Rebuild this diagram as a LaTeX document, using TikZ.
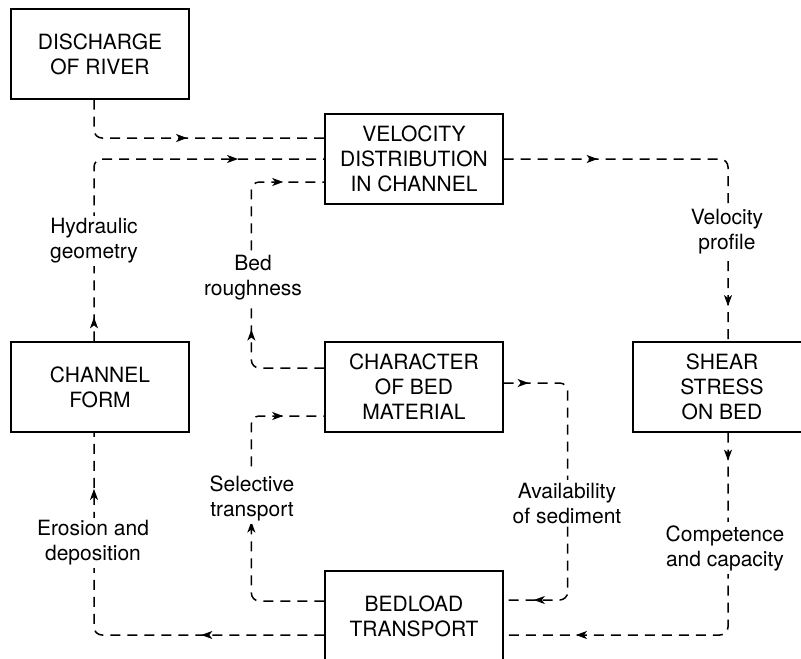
\documentclass[tikz,border=0pt]{standalone}
\usepackage{fontspec}
\setmainfont{TeX Gyre Heros}
\usetikzlibrary{arrows.meta,decorations.markings}

\begin{document}
\begin{tikzpicture}[x=1pt,y=-1pt,line width=1.5pt,>=Stealth,
  font=\fontsize{21}{25}\selectfont,
  box/.style={draw,line width=1.3pt,minimum width=178pt,minimum height=90pt,align=center,inner sep=2pt},
  lab/.style={fill=white,align=center,inner sep=3pt},
  link/.style={dash pattern=on 10pt off 7pt,rounded corners=8pt},
  tips/.style 2 args={postaction={decorate,solid},decoration={markings,
    mark=at position #1 with {\arrow{Stealth[length=11pt,width=8pt,inset=3pt]}},
    mark=at position #2 with {\arrow{Stealth[length=11pt,width=8pt,inset=3pt]}}}},
  tip/.style={postaction={decorate,solid},decoration={markings,
    mark=at position #1 with {\arrow{Stealth[length=11pt,width=8pt,inset=3pt]}}}}]
\useasboundingbox (0,0) rectangle (801,659);
% boxes
\node[box] (dis) at (100,54)  {DISCHARGE\\OF RIVER};
\node[box] (vel) at (414,159) {VELOCITY\\DISTRIBUTION\\IN CHANNEL};
\node[box] (chf) at (100,387) {CHANNEL\\FORM};
\node[box] (chb) at (414,387) {CHARACTER\\OF BED\\MATERIAL};
\node[box] (shr) at (722,387) {SHEAR\\STRESS\\ON BED};
\node[box] (bed) at (414,616) {BEDLOAD\\TRANSPORT};
% dashed links
\draw[link,tip=128pt] ([xshift=-6pt]dis.south) |- ([yshift=21pt]vel.west);
\draw[link,tips={24pt}{323pt}] ([xshift=-6pt]chf.north) |- (vel.west);
\draw[link,tips={108pt}{284pt}] ([yshift=19pt]chb.west) -- ++(-73,0) |- ([yshift=-23pt]vel.west);
\draw[link,tips={94pt}{368pt}] (vel.east) -| ([xshift=6pt]shr.north);
\draw[link,tips={25pt}{308pt}] ([yshift=4pt]chb.east) -- ++(64,0) |- ([yshift=16pt]bed.east);
\draw[link,tips={28pt}{351pt}] ([xshift=6pt]shr.south) |- ([yshift=-19pt]bed.east);
\draw[link,tips={149pt}{283pt}] ([yshift=15pt]bed.west) -- ++(-73,0) |- ([yshift=-29pt]chb.west);
\draw[link,tips={123pt}{373pt}] ([yshift=-19pt]bed.west) -| ([xshift=-6pt]chf.south);
% labels on the links
\node[lab] (hyd) at (94,241)  {Hydraulic\\geometry};
\node[lab] (rgh) at (253,278) {Bed\\roughness};
\node[lab] (vpr) at (727,232) {Velocity\\profile};
\node[lab] (avs) at (567,503) {Availability\\of sediment};
\node[lab] (cmp) at (725,548) {Competence\\and capacity};
\node[lab] (sel) at (252,498) {Selective\\transport};
\node[lab] (ero) at (93,543)  {Erosion and\\deposition};
\end{tikzpicture}
\end{document}
